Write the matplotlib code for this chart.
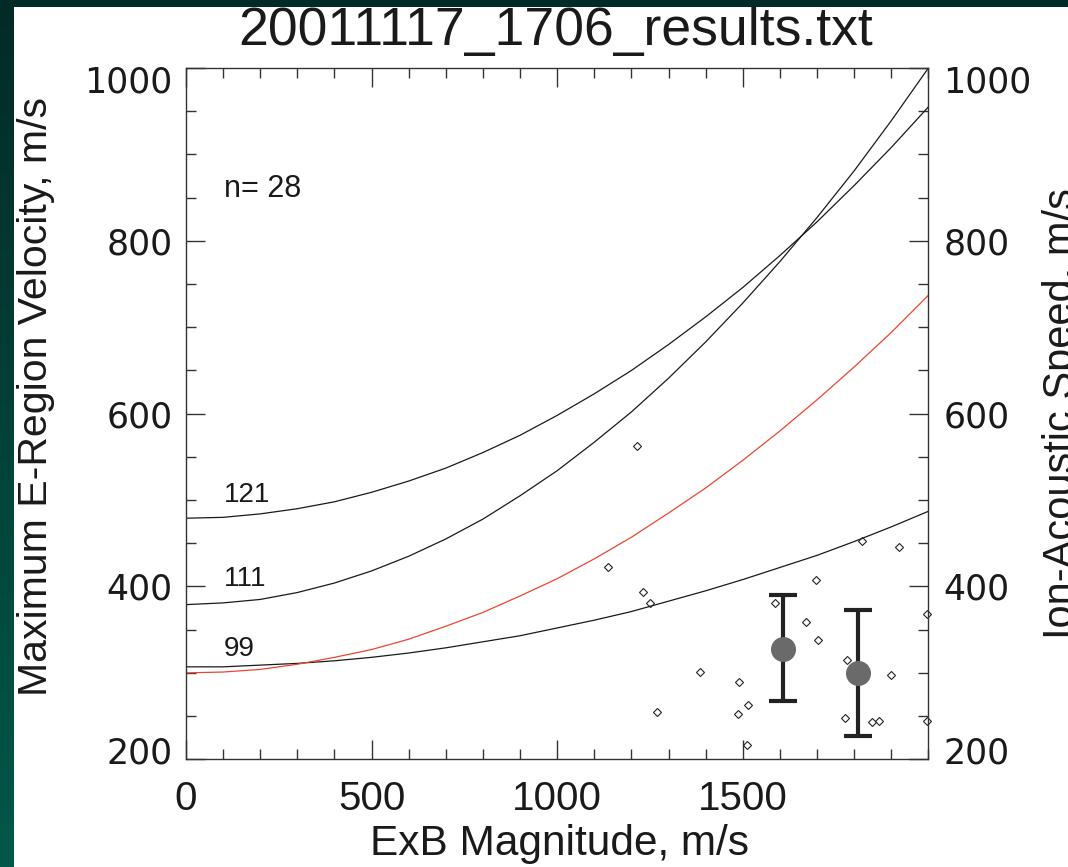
import numpy as np
import matplotlib
matplotlib.use('Agg')
import matplotlib.pyplot as plt
from matplotlib.patches import Rectangle
from matplotlib.colors import LinearSegmentedColormap
from matplotlib.ticker import MultipleLocator
import matplotlib.transforms as mtransforms

# ---------------- data ----------------
title = "20011117_1706_results.txt"
x_label = "ExB Magnitude, m/s"
y_label = "Maximum E-Region Velocity, m/s"
y2_label = "Ion-Acoustic Speed, m/s"
n_text = "n= 28"

curve_x = [0, 100, 200, 300, 400, 500, 600, 700, 800, 900, 1000,
           1100, 1200, 1300, 1400, 1500, 1600, 1700, 1800, 1900, 2000]
curve_121 = [479, 480, 484, 490, 498, 509, 522, 537, 555, 575, 598,
             623, 650, 680, 712, 746, 783, 822, 864, 908, 955]
curve_111 = [379, 381, 385, 393, 404, 418, 435, 455, 478, 505, 534,
             567, 602, 641, 683, 728, 776, 827, 881, 939, 1000]
curve_99 = [307, 307, 309, 311, 314, 318, 323, 329, 336, 343, 352,
            361, 371, 383, 395, 408, 422, 436, 452, 469, 487]
curve_red = [300, 301, 304, 310, 318, 327, 339, 354, 370, 389, 409,
             432, 457, 485, 514, 546, 580, 616, 654, 694, 737]
curve_labels = ["121", "111", "99"]
label_y = [498, 400, 319]

pts_x = [1216, 1136, 1231, 1250, 1697, 1821, 1921, 1586, 1670, 1703, 1997,
         1385, 1490, 1781, 1900, 1268, 1488, 1514, 1774, 1849, 1867, 1997, 1511]
pts_y = [562, 423, 394, 381, 408, 453, 446, 381, 359, 338, 368,
         301, 290, 315, 298, 255, 253, 263, 248, 243, 244, 244, 216]

mean_x = [1609, 1810]
mean_y = [328, 300]
err_lo = [267, 227]
err_hi = [390, 373]

x_ticks = [0, 500, 1000, 1500]
y_ticks = [200, 400, 600, 800, 1000]

# ---------------- figure ----------------
W, H = 1068, 867
fig = plt.figure(figsize=(W / 100, H / 100), dpi=100)

bg = fig.add_axes([0, 0, 1, 1], zorder=-10)
bg.axis('off')
cmap = LinearSegmentedColormap.from_list('g', ['#022b26', '#00584a'])
grad = np.linspace(0, 1, 256).reshape(-1, 1)
bg.imshow(grad, aspect='auto', cmap=cmap, extent=[0, 1, 0, 1], origin='upper')
bg.add_patch(Rectangle((14 / W, 0), 1, 1 - 7 / H, facecolor='white',
                       edgecolor='none', transform=bg.transAxes))
bg.set_xlim(0, 1)
bg.set_ylim(0, 1)

sans = ['Liberation Sans', 'DejaVu Sans']
wide = ['DejaVu Sans']
ink = '#1a1a1a'

ax = fig.add_axes([186 / W, 1 - 759.3 / H, (928.4 - 186) / W, (759.3 - 68) / H])
ax.set_xlim(0, 2000)
ax.set_ylim(200, 1000)

ax.plot(curve_x, curve_121, color=ink, lw=0.9)
ax.plot(curve_x, curve_111, color=ink, lw=0.9)
ax.plot(curve_x, curve_99, color=ink, lw=0.9)
ax.plot(curve_x, curve_red, color='#ec4630', lw=0.9)

for lab, ly in zip(curve_labels, label_y):
    ax.text(103, ly, lab, fontsize=20, family=sans, color=ink,
            ha='left', va='baseline')
ax.text(103, 851, n_text, fontsize=22, family=sans, color=ink,
        ha='left', va='baseline')

ax.plot(pts_x, pts_y, linestyle='none', marker='D', markersize=4.5,
        markerfacecolor='none', markeredgecolor='#222222', markeredgewidth=0.8,
        clip_on=False)

yerr = [np.array(mean_y) - np.array(err_lo), np.array(err_hi) - np.array(mean_y)]
ax.errorbar(mean_x, mean_y, yerr=yerr, fmt='none', ecolor='#222222',
            elinewidth=3, capsize=10, capthick=3, zorder=4)
ax.plot(mean_x, mean_y, linestyle='none', marker='o', markersize=17,
        color='#6a6a6a', zorder=5)

for s in ax.spines.values():
    s.set_color('#333333')
    s.set_linewidth(1.0)

ax.set_xticks(x_ticks)
ax.xaxis.set_minor_locator(MultipleLocator(100))
ax.set_yticks(y_ticks)
ax.yaxis.set_minor_locator(MultipleLocator(50))
ax.tick_params(which='both', direction='in', top=True, right=True,
               color='#333333', width=1.0)
ax.tick_params(which='major', length=14)
ax.tick_params(which='minor', length=7)
ax.tick_params(axis='x', labelsize=29, pad=15, labelcolor=ink)
ax.tick_params(axis='y', labelsize=25, pad=9.5, labelright=True,
               labelcolor=ink)
for t in ax.get_xticklabels():
    t.set_family(sans)

yticks_objs = ax.yaxis.get_major_ticks()
for loc, tick in zip(y_ticks, yticks_objs):
    tick.label1.set_fontfamily(wide)
    tick.label2.set_fontfamily(wide)
    tick.label2.set_transform(tick.label2.get_transform() +
                              mtransforms.ScaledTranslation(2 / 100, 0, fig.dpi_scale_trans))
    if loc == 1000:
        off = mtransforms.ScaledTranslation(0, -11 / 100, fig.dpi_scale_trans)
        tick.label1.set_transform(tick.label1.get_transform() + off)
        tick.label2.set_transform(tick.label2.get_transform() + off)
    elif loc == 200:
        off = mtransforms.ScaledTranslation(0, 9 / 100, fig.dpi_scale_trans)
        tick.label1.set_transform(tick.label1.get_transform() + off)
        tick.label2.set_transform(tick.label2.get_transform() + off)

fig.text(556 / W, 1 - 45 / H, title, fontsize=38.5, family=sans,
         color=ink, ha='center', va='baseline')
fig.text(559 / W, 1 - 855 / H, x_label, fontsize=30.5, family=sans,
         color=ink, ha='center', va='baseline')
fig.text(36 / W, 1 - 396 / H, y_label, fontsize=29.5, family=sans,
         color=ink, ha='center', va='center', rotation=90)
fig.text(1042 / W, 1 - 414 / H, y2_label, fontsize=30, family=sans,
         color=ink, ha='left', va='center', rotation=90)

fig.savefig('out.png', dpi=100)
